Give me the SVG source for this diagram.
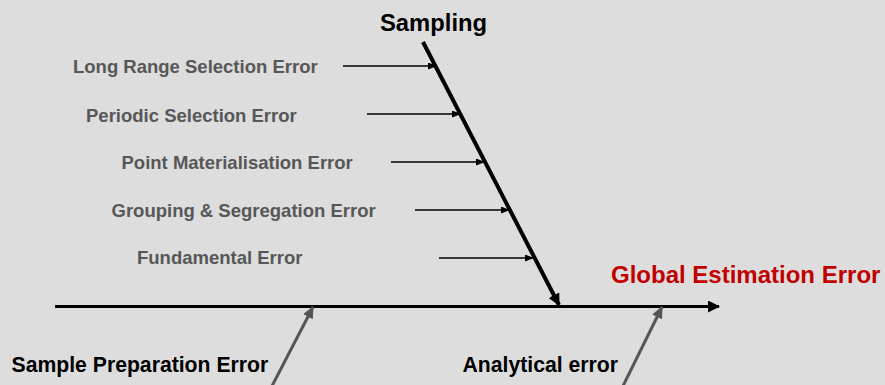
<svg xmlns="http://www.w3.org/2000/svg" width="885" height="385" viewBox="0 0 885 385">
<defs>
<style>
text{font-family:"Liberation Sans",Arial,sans-serif;font-weight:bold}
.cause{font-size:18.5px;fill:#575757}
.main{font-size:21.2px;fill:#000}
.small{stroke:#000;stroke-width:1.3;fill:none}
</style>
<marker id="ahS" markerWidth="9" markerHeight="7" refX="9" refY="3.5" orient="auto" markerUnits="userSpaceOnUse"><path d="M0,0L9,3.5L0,7z" fill="#000"/></marker>
<marker id="ahB" markerWidth="12" markerHeight="12" refX="11" refY="6" orient="auto" markerUnits="userSpaceOnUse"><path d="M0,0L12,6L0,12z" fill="#000"/></marker>
<marker id="ahG" markerWidth="12" markerHeight="11" refX="11" refY="5.5" orient="auto" markerUnits="userSpaceOnUse"><path d="M0,0L12,5.5L0,11z" fill="#555"/></marker>
</defs>
<rect width="885" height="385" fill="#dddddd"/>
<g id="connectors">
<line x1="55" y1="306.5" x2="719" y2="306.5" stroke="#000" stroke-width="3.2" marker-end="url(#ahB)"/>
<line x1="423" y1="42" x2="559" y2="305" stroke="#000" stroke-width="4" marker-end="url(#ahB)"/>
<line class="small" x1="343" y1="66" x2="437" y2="66" marker-end="url(#ahS)"/>
<line class="small" x1="367" y1="114" x2="461" y2="114" marker-end="url(#ahS)"/>
<line class="small" x1="391" y1="162" x2="485" y2="162" marker-end="url(#ahS)"/>
<line class="small" x1="415" y1="210" x2="510" y2="210" marker-end="url(#ahS)"/>
<line class="small" x1="439" y1="258" x2="534" y2="258" marker-end="url(#ahS)"/>
<line x1="272" y1="386" x2="313" y2="307" stroke="#555" stroke-width="3" marker-end="url(#ahG)"/>
<line x1="623" y1="386" x2="662" y2="307" stroke="#555" stroke-width="3" marker-end="url(#ahG)"/>
</g>
<g id="sampling"><text x="380" y="31" style="font-size:23.8px;fill:#000">Sampling</text></g>
<g id="global"><text x="611" y="283" style="font-size:24px;fill:#c00000">Global Estimation Error</text></g>
<g id="longrange"><text class="cause" x="73" y="73">Long Range Selection Error</text></g>
<g id="periodic"><text class="cause" x="86" y="121.5">Periodic Selection Error</text></g>
<g id="point"><text class="cause" x="121.5" y="168.5">Point Materialisation Error</text></g>
<g id="grouping"><text class="cause" x="111.5" y="216.5">Grouping &amp; Segregation Error</text></g>
<g id="fundamental"><text class="cause" x="137" y="264">Fundamental Error</text></g>
<g id="prep"><text class="main" x="11.5" y="371.5">Sample Preparation Error</text></g>
<g id="analytical"><text class="main" x="462.5" y="371.5">Analytical error</text></g>
</svg>
